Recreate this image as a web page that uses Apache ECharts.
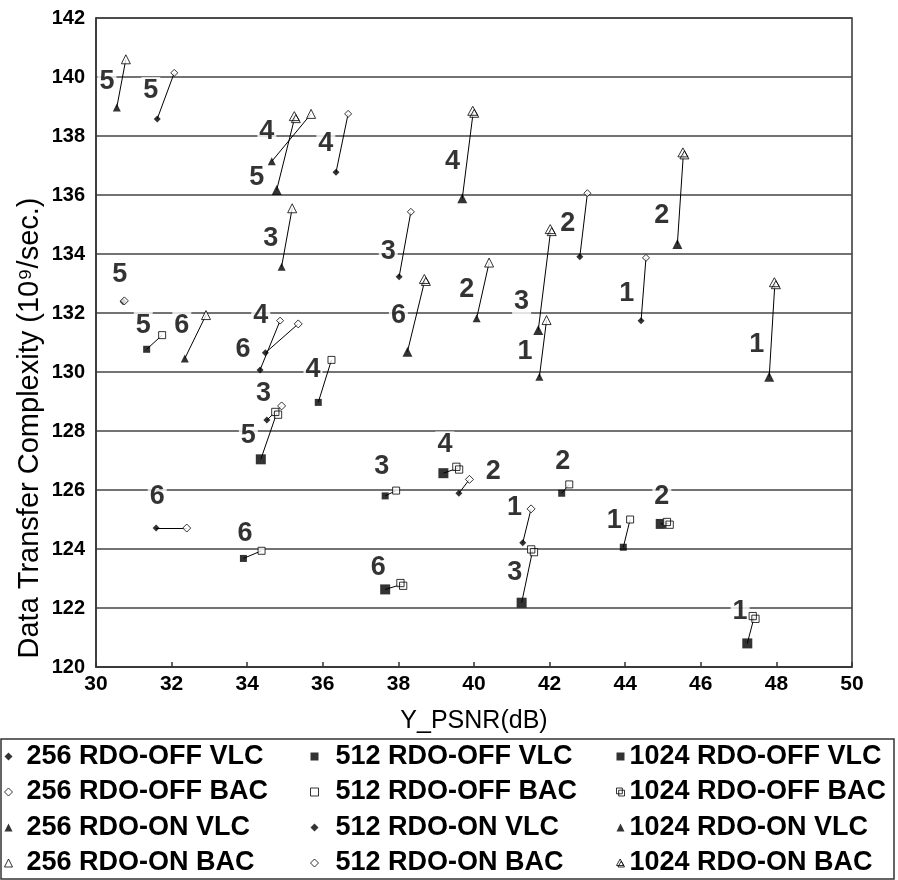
<!DOCTYPE html>
<html><head><meta charset="utf-8">
<script src="https://cdn.jsdelivr.net/npm/echarts@6/dist/echarts.min.js"></script>
<style>html,body{margin:0;padding:0;background:#fff}#c{width:898px;height:880px}</style>
</head><body><div id="c"></div>
<script>
// ---- DATA (x = Y_PSNR dB, y = complexity), index i -> pair label i+1 ----
const pairLabels = ['1','2','3','4','5','6'];

const off256VLC = [[41.29,124.21],[39.60,125.89],[34.52,128.37],[34.48,130.65],[30.72,132.38],[31.59,124.71]];
const off256BAC = [[41.51,125.36],[39.88,126.36],[34.91,128.85],[35.35,131.63],[30.75,132.41],[32.40,124.71]];
const on256VLC  = [[41.73,129.84],[40.07,131.82],[34.91,133.57],[34.65,137.14],[30.55,138.97],[32.35,130.46]];
const on256BAC  = [[41.92,131.76],[40.40,133.71],[35.19,135.55],[35.69,138.75],[30.79,140.60],[32.91,131.93]];
const off512VLC = [[43.95,124.06],[42.32,125.89],[37.65,125.80],[35.88,128.97],[31.34,130.77],[33.90,123.68]];
const off512BAC = [[44.13,125.00],[42.52,126.19],[37.94,125.98],[36.23,130.41],[31.75,131.25],[34.38,123.94]];
const on512VLC  = [[44.42,131.74],[42.80,133.91],[38.02,133.23],[36.35,136.77],[31.62,138.58],[34.34,130.07]];
const on512BAC  = [[44.55,133.87],[43.00,136.06],[38.33,135.43],[36.67,138.75],[32.07,140.14],[34.87,131.74]];
const off1024VLC = [[47.23,120.80],[44.94,124.85],[41.26,122.18],[39.19,126.57],[34.36,127.04],[37.65,122.63]];
const off1024BAC = [[47.41,121.68],[45.14,124.87],[41.55,123.94],[39.57,126.74],[34.78,128.60],[38.09,122.80]];
const on1024VLC  = [[47.81,129.84],[45.38,134.34],[41.70,131.42],[39.69,135.89],[34.78,136.17],[38.24,130.69]];
const on1024BAC  = [[47.96,133.01],[45.54,137.41],[42.03,134.81],[39.98,138.82],[35.26,138.64],[38.70,133.12]];

// label anchor points (data units) for each pair's number
const labOff256  = [[41.07,125.41],[40.51,126.62],[34.43,129.28],[34.36,131.93],[30.63,133.29],[31.62,125.77]];
const labOn256   = [[41.35,130.69],[39.81,132.78],[34.62,134.53],[34.52,138.15],[30.29,139.83],[32.27,131.59]];
const labOff512  = [[43.71,124.96],[42.35,126.96],[37.56,126.79],[35.74,130.07],[31.25,131.59],[33.94,124.53]];
const labOn512   = [[44.04,132.67],[42.48,135.04],[37.73,134.08],[36.08,137.75],[31.45,139.54],[33.89,130.75]];
const labOff1024 = [[47.04,121.87],[44.97,125.77],[41.08,123.20],[39.23,127.53],[34.03,127.86],[37.47,123.38]];
const labOn1024  = [[47.48,130.92],[44.97,135.32],[41.26,132.38],[39.43,137.13],[34.25,136.59],[38.00,131.93]];

const xTicks = [30,50,2];
const yTicks = [120,142,2];

// ---- STYLES ----
const FONT = '"Liberation Sans", Arial, sans-serif';
const dblSquare = 'path://M0,0H8V8H0Z M3,3H11V11H3Z';
const dblTri = 'path://M5,0L10,9H0Z M6.5,3L11,11H2Z';
const filled = {color:'#000'};
const hollow = {color:'#fff', borderColor:'#000', borderWidth:1};

const seriesDefs = [
  {name:'256 RDO-OFF VLC', data:off256VLC, symbol:'diamond', size:7, style:filled},
  {name:'256 RDO-OFF BAC', data:off256BAC, symbol:'diamond', size:8, style:hollow},
  {name:'256 RDO-ON VLC', data:on256VLC, symbol:'triangle', size:8, style:filled},
  {name:'256 RDO-ON BAC', data:on256BAC, symbol:'triangle', size:9, style:hollow},
  {name:'512 RDO-OFF VLC', data:off512VLC, symbol:'rect', size:7, style:filled},
  {name:'512 RDO-OFF BAC', data:off512BAC, symbol:'rect', size:7, style:hollow},
  {name:'512 RDO-ON VLC', data:on512VLC, symbol:'diamond', size:7, style:filled},
  {name:'512 RDO-ON BAC', data:on512BAC, symbol:'diamond', size:7, style:hollow},
  {name:'1024 RDO-OFF VLC', data:off1024VLC, symbol:'rect', size:10, style:filled},
  {name:'1024 RDO-OFF BAC', data:off1024BAC, symbol:dblSquare, size:10, style:hollow},
  {name:'1024 RDO-ON VLC', data:on1024VLC, symbol:'triangle', size:10, style:filled},
  {name:'1024 RDO-ON BAC', data:on1024BAC, symbol:dblTri, size:11, style:hollow}
];
const pairs = [[off256VLC,off256BAC],[on256VLC,on256BAC],[off512VLC,off512BAC],[on512VLC,on512BAC],[off1024VLC,off1024BAC],[on1024VLC,on1024BAC]];
const labelSets = [labOff256,labOn256,labOff512,labOn512,labOff1024,labOn1024];

const lineData = [];
pairs.forEach(([v,b]) => v.forEach((p,i) => lineData.push({coords:[p,b[i]]})));
const labelData = [];
labelSets.forEach(set => set.forEach((p,i) => labelData.push({name:pairLabels[i], value:p})));

const series = [
  {type:'lines', coordinateSystem:'cartesian2d', silent:true, z:2,
   lineStyle:{color:'#000', width:1, opacity:1}, data:lineData},
  {type:'scatter', name:'_labels', silent:true, z:3, symbol:'circle', symbolSize:1,
   itemStyle:{color:'rgba(0,0,0,0)'},
   label:{show:true, position:'inside', formatter:'{b}', color:'#000', fontFamily:FONT,
          fontSize:27, fontWeight:'bold', backgroundColor:'#fff', padding:[0,2]},
   data:labelData}
];
seriesDefs.forEach(s => series.push({
  type:'scatter', name:s.name, data:s.data, symbol:s.symbol, symbolSize:s.size,
  symbolKeepAspect:true, itemStyle:s.style, z:4
}));

const legendItem = s => ({name:s.name, icon:s.symbol,
  itemStyle: s.style === hollow ? {color:'#fff', borderColor:'#000', borderWidth:1}
                                : {color:'#000', borderWidth:0}});
const legendText = {fontFamily:FONT, fontSize:27, fontWeight:'bold', color:'#000', lineHeight:27};
const legendBase = {orient:'vertical', top:743, height:140, padding:0, itemGap:8.5,
  itemWidth:8, itemHeight:8, selectedMode:false};
const legends = [
  Object.assign({}, legendBase, {left:4, data:seriesDefs.slice(0,4).map(legendItem),
    textStyle:Object.assign({}, legendText, {padding:[0,0,0,9]})}),
  Object.assign({}, legendBase, {left:310, data:seriesDefs.slice(4,8).map(legendItem),
    textStyle:Object.assign({}, legendText, {padding:[0,0,0,12]})}),
  Object.assign({}, legendBase, {left:616, data:seriesDefs.slice(8,12).map(legendItem),
    textStyle:Object.assign({}, legendText, {padding:[0,0,0,0]})})
];

const chart = echarts.init(document.getElementById('c'), null, {renderer:'canvas'});
chart.setOption({
  animation:false,
  backgroundColor:'#fff',
  grid:{left:96, right:46, top:18, bottom:213, show:true, borderColor:'#333', borderWidth:1.5},
  xAxis:{type:'value', min:xTicks[0], max:xTicks[1], interval:xTicks[2],
    name:'Y_PSNR(dB)', nameLocation:'middle', nameGap:42,
    nameTextStyle:{fontFamily:FONT, fontSize:25, color:'#000'},
    axisLine:{show:true, lineStyle:{color:'#333', width:1.5}},
    axisTick:{show:true, inside:true, length:5, lineStyle:{color:'#333', width:1.5}},
    axisLabel:{fontFamily:FONT, fontSize:21, fontWeight:'bold', color:'#000', margin:7},
    splitLine:{show:false}},
  yAxis:{type:'value', min:yTicks[0], max:yTicks[1], interval:yTicks[2],
    axisLine:{show:true, lineStyle:{color:'#333', width:1.5}},
    axisTick:{show:false},
    axisLabel:{fontFamily:FONT, fontSize:20, fontWeight:'bold', color:'#000', margin:11},
    splitLine:{show:true, lineStyle:{color:'#444', width:1.5}}},
  legend:legends,
  graphic:[
    {type:'text', x:30, y:428, rotation:Math.PI/2, z:10,
     style:{text:'Data Transfer Complexity (10\u2079/sec.)', font:'29px '+FONT, fill:'#000',
            align:'center', verticalAlign:'middle'}},
    {type:'rect', shape:{x:1, y:739, width:893, height:140}, z:-1,
     style:{fill:'none', stroke:'#333', lineWidth:1.5}}
  ],
  series:series
});
</script></body></html>
